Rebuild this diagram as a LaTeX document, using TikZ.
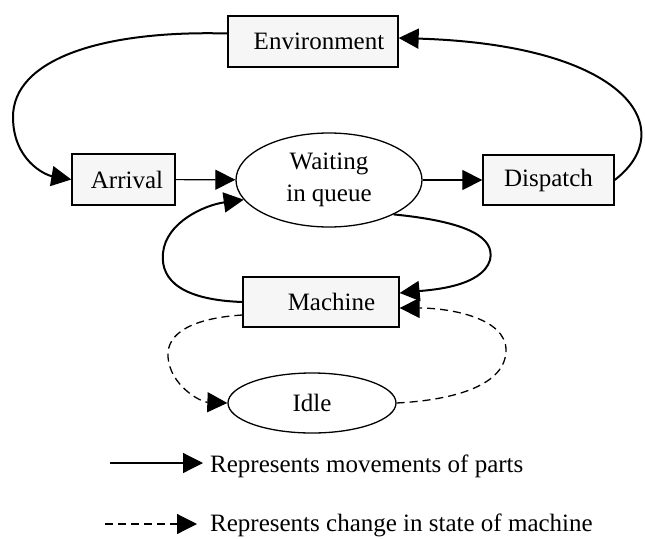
\documentclass[tikz,border=0pt]{standalone}
\usepackage{fontspec}
\setmainfont{Liberation Serif}
\usetikzlibrary{arrows.meta,shapes.geometric}
\definecolor{boxfill}{HTML}{F6F6F6}
\begin{document}
\begin{tikzpicture}[x=1pt, y=-1pt, font=\fontsize{25}{32}\selectfont,
	box/.style={shape=rectangle, draw=black, fill=boxfill, line width=1.3pt, inner sep=0pt},
	state/.style={shape=ellipse, draw=black, line width=1.3pt, inner sep=0pt},
	flow/.style={-{Triangle[length=20pt, width=20pt]}, line width=1.2pt},
	loop/.style={flow, line width=2pt},
	change/.style={flow, line width=1.3pt, dash pattern=on 8pt off 5pt}]
	\useasboundingbox (0,0) rectangle (645,538);

	\node[box, minimum width=170pt, minimum height=51pt]   (env)  at (313,41.5)  {\hspace{12pt}Environment};
	\node[box, minimum width=103pt, minimum height=51pt]   (arr)  at (123.5,179.5) {\hspace{7pt}Arrival};
	\node[state, minimum width=186pt, minimum height=94pt, align=center] (wait) at (329,180) {Waiting\\in queue};
	\node[box, minimum width=131pt, minimum height=50pt]   (disp) at (548.5,180) {Dispatch};
	\node[box, minimum width=156pt, minimum height=50pt]   (mach) at (321,302) {\hspace{21pt}Machine};
	\node[state, minimum width=168pt, minimum height=60pt] (idle) at (312,403)   {Idle\hspace{26pt}};

	\path [flow] (arr) edge (wait);
	\path [flow] (wait) edge (disp);
	\draw [loop] ([yshift=8pt]env.west) .. controls (100,30) and (13,60) .. (13,117)
		.. controls (13,160) and (45,175) .. (arr.west);
	\draw [loop] (disp.east) .. controls (680,130) and (630,45) .. ([yshift=3.5pt]env.east);
	\draw [loop] (wait.-28) .. controls (470,222) and (495,238) .. (490,260)
		.. controls (482,287) and (430,290) .. ([yshift=9pt]mach.east);
	\draw [loop] (mach.west) .. controls (185,300) and (160,282) .. (163,253)
		.. controls (166,222) and (205,205) .. (wait.193);

	\draw [change] ([yshift=-13pt]mach.west) .. controls (195,318) and (166,332) .. (168,357)
		.. controls (170,385) and (200,402) .. (idle.west);
	\draw [change] (idle.east) .. controls (455,400) and (506,385) .. (506,350)
		.. controls (506,318) and (450,308) .. ([yshift=-6pt]mach.east);

	% legend
	\coordinate (l1) at (110,463);
	\coordinate (l2) at (105,524);
	\node[anchor=west, inner sep=0pt] (t1) at (210,466) {Represents movements of parts};
	\node[anchor=west, inner sep=0pt] (t2) at (210,525) {Represents change in state of machine};
	\draw [flow]   (l1) -- ([xshift=-7pt]l1 -| t1.west);
	\draw [change, line width=1.2pt] (l2) -- ([xshift=-13pt]l2 -| t2.west);
\end{tikzpicture}
\end{document}
